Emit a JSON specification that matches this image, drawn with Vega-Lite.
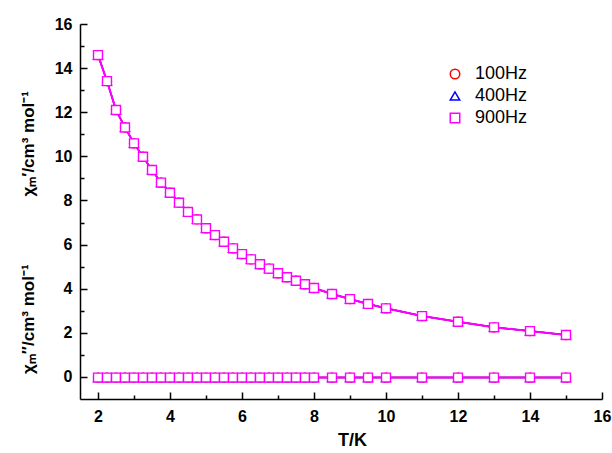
{
  "$schema": "https://vega.github.io/schema/vega-lite/v6.json",
  "width": 522,
  "height": 375,
  "autosize": {"type": "none"},
  "padding": {"left": 80, "top": 24, "right": 10, "bottom": 54},
  "background": "white",
  "config": {
    "view": {"stroke": null},
    "font": "Liberation Sans"
  },
  "data": {
    "values": [
      {"T": 2, "f": "100Hz", "c1": 14.59, "c2": -0.03},
      {"T": 2.25, "f": "100Hz", "c1": 13.41, "c2": -0.03},
      {"T": 2.5, "f": "100Hz", "c1": 12.10, "c2": -0.03},
      {"T": 2.75, "f": "100Hz", "c1": 11.31, "c2": -0.03},
      {"T": 3, "f": "100Hz", "c1": 10.59, "c2": -0.03},
      {"T": 3.25, "f": "100Hz", "c1": 9.98, "c2": -0.03},
      {"T": 3.5, "f": "100Hz", "c1": 9.38, "c2": -0.03},
      {"T": 3.75, "f": "100Hz", "c1": 8.81, "c2": -0.03},
      {"T": 4, "f": "100Hz", "c1": 8.35, "c2": -0.03},
      {"T": 4.25, "f": "100Hz", "c1": 7.90, "c2": -0.03},
      {"T": 4.5, "f": "100Hz", "c1": 7.48, "c2": -0.03},
      {"T": 4.75, "f": "100Hz", "c1": 7.14, "c2": -0.03},
      {"T": 5, "f": "100Hz", "c1": 6.74, "c2": -0.03},
      {"T": 5.25, "f": "100Hz", "c1": 6.43, "c2": -0.03},
      {"T": 5.5, "f": "100Hz", "c1": 6.13, "c2": -0.03},
      {"T": 5.75, "f": "100Hz", "c1": 5.83, "c2": -0.03},
      {"T": 6, "f": "100Hz", "c1": 5.57, "c2": -0.03},
      {"T": 6.25, "f": "100Hz", "c1": 5.33, "c2": -0.03},
      {"T": 6.5, "f": "100Hz", "c1": 5.11, "c2": -0.03},
      {"T": 6.75, "f": "100Hz", "c1": 4.91, "c2": -0.03},
      {"T": 7, "f": "100Hz", "c1": 4.70, "c2": -0.03},
      {"T": 7.25, "f": "100Hz", "c1": 4.52, "c2": -0.03},
      {"T": 7.5, "f": "100Hz", "c1": 4.36, "c2": -0.03},
      {"T": 7.75, "f": "100Hz", "c1": 4.20, "c2": -0.03},
      {"T": 8, "f": "100Hz", "c1": 4.03, "c2": -0.03},
      {"T": 8.5, "f": "100Hz", "c1": 3.76, "c2": -0.03},
      {"T": 9, "f": "100Hz", "c1": 3.53, "c2": -0.03},
      {"T": 9.5, "f": "100Hz", "c1": 3.31, "c2": -0.03},
      {"T": 10, "f": "100Hz", "c1": 3.11, "c2": -0.03},
      {"T": 11, "f": "100Hz", "c1": 2.76, "c2": -0.03},
      {"T": 12, "f": "100Hz", "c1": 2.50, "c2": -0.03},
      {"T": 13, "f": "100Hz", "c1": 2.25, "c2": -0.03},
      {"T": 14, "f": "100Hz", "c1": 2.08, "c2": -0.03},
      {"T": 15, "f": "100Hz", "c1": 1.90, "c2": -0.03},
      {"T": 2, "f": "400Hz", "c1": 14.59, "c2": -0.03},
      {"T": 2.25, "f": "400Hz", "c1": 13.41, "c2": -0.03},
      {"T": 2.5, "f": "400Hz", "c1": 12.10, "c2": -0.03},
      {"T": 2.75, "f": "400Hz", "c1": 11.31, "c2": -0.03},
      {"T": 3, "f": "400Hz", "c1": 10.59, "c2": -0.03},
      {"T": 3.25, "f": "400Hz", "c1": 9.98, "c2": -0.03},
      {"T": 3.5, "f": "400Hz", "c1": 9.38, "c2": -0.03},
      {"T": 3.75, "f": "400Hz", "c1": 8.81, "c2": -0.03},
      {"T": 4, "f": "400Hz", "c1": 8.35, "c2": -0.03},
      {"T": 4.25, "f": "400Hz", "c1": 7.90, "c2": -0.03},
      {"T": 4.5, "f": "400Hz", "c1": 7.48, "c2": -0.03},
      {"T": 4.75, "f": "400Hz", "c1": 7.14, "c2": -0.03},
      {"T": 5, "f": "400Hz", "c1": 6.74, "c2": -0.03},
      {"T": 5.25, "f": "400Hz", "c1": 6.43, "c2": -0.03},
      {"T": 5.5, "f": "400Hz", "c1": 6.13, "c2": -0.03},
      {"T": 5.75, "f": "400Hz", "c1": 5.83, "c2": -0.03},
      {"T": 6, "f": "400Hz", "c1": 5.57, "c2": -0.03},
      {"T": 6.25, "f": "400Hz", "c1": 5.33, "c2": -0.03},
      {"T": 6.5, "f": "400Hz", "c1": 5.11, "c2": -0.03},
      {"T": 6.75, "f": "400Hz", "c1": 4.91, "c2": -0.03},
      {"T": 7, "f": "400Hz", "c1": 4.70, "c2": -0.03},
      {"T": 7.25, "f": "400Hz", "c1": 4.52, "c2": -0.03},
      {"T": 7.5, "f": "400Hz", "c1": 4.36, "c2": -0.03},
      {"T": 7.75, "f": "400Hz", "c1": 4.20, "c2": -0.03},
      {"T": 8, "f": "400Hz", "c1": 4.03, "c2": -0.03},
      {"T": 8.5, "f": "400Hz", "c1": 3.76, "c2": -0.03},
      {"T": 9, "f": "400Hz", "c1": 3.53, "c2": -0.03},
      {"T": 9.5, "f": "400Hz", "c1": 3.31, "c2": -0.03},
      {"T": 10, "f": "400Hz", "c1": 3.11, "c2": -0.03},
      {"T": 11, "f": "400Hz", "c1": 2.76, "c2": -0.03},
      {"T": 12, "f": "400Hz", "c1": 2.50, "c2": -0.03},
      {"T": 13, "f": "400Hz", "c1": 2.25, "c2": -0.03},
      {"T": 14, "f": "400Hz", "c1": 2.08, "c2": -0.03},
      {"T": 15, "f": "400Hz", "c1": 1.90, "c2": -0.03},
      {"T": 2, "f": "900Hz", "c1": 14.59, "c2": -0.03},
      {"T": 2.25, "f": "900Hz", "c1": 13.41, "c2": -0.03},
      {"T": 2.5, "f": "900Hz", "c1": 12.10, "c2": -0.03},
      {"T": 2.75, "f": "900Hz", "c1": 11.31, "c2": -0.03},
      {"T": 3, "f": "900Hz", "c1": 10.59, "c2": -0.03},
      {"T": 3.25, "f": "900Hz", "c1": 9.98, "c2": -0.03},
      {"T": 3.5, "f": "900Hz", "c1": 9.38, "c2": -0.03},
      {"T": 3.75, "f": "900Hz", "c1": 8.81, "c2": -0.03},
      {"T": 4, "f": "900Hz", "c1": 8.35, "c2": -0.03},
      {"T": 4.25, "f": "900Hz", "c1": 7.90, "c2": -0.03},
      {"T": 4.5, "f": "900Hz", "c1": 7.48, "c2": -0.03},
      {"T": 4.75, "f": "900Hz", "c1": 7.14, "c2": -0.03},
      {"T": 5, "f": "900Hz", "c1": 6.74, "c2": -0.03},
      {"T": 5.25, "f": "900Hz", "c1": 6.43, "c2": -0.03},
      {"T": 5.5, "f": "900Hz", "c1": 6.13, "c2": -0.03},
      {"T": 5.75, "f": "900Hz", "c1": 5.83, "c2": -0.03},
      {"T": 6, "f": "900Hz", "c1": 5.57, "c2": -0.03},
      {"T": 6.25, "f": "900Hz", "c1": 5.33, "c2": -0.03},
      {"T": 6.5, "f": "900Hz", "c1": 5.11, "c2": -0.03},
      {"T": 6.75, "f": "900Hz", "c1": 4.91, "c2": -0.03},
      {"T": 7, "f": "900Hz", "c1": 4.70, "c2": -0.03},
      {"T": 7.25, "f": "900Hz", "c1": 4.52, "c2": -0.03},
      {"T": 7.5, "f": "900Hz", "c1": 4.36, "c2": -0.03},
      {"T": 7.75, "f": "900Hz", "c1": 4.20, "c2": -0.03},
      {"T": 8, "f": "900Hz", "c1": 4.03, "c2": -0.03},
      {"T": 8.5, "f": "900Hz", "c1": 3.76, "c2": -0.03},
      {"T": 9, "f": "900Hz", "c1": 3.53, "c2": -0.03},
      {"T": 9.5, "f": "900Hz", "c1": 3.31, "c2": -0.03},
      {"T": 10, "f": "900Hz", "c1": 3.11, "c2": -0.03},
      {"T": 11, "f": "900Hz", "c1": 2.76, "c2": -0.03},
      {"T": 12, "f": "900Hz", "c1": 2.50, "c2": -0.03},
      {"T": 13, "f": "900Hz", "c1": 2.25, "c2": -0.03},
      {"T": 14, "f": "900Hz", "c1": 2.08, "c2": -0.03},
      {"T": 15, "f": "900Hz", "c1": 1.90, "c2": -0.03}
    ]
  },
  "transform": [{"fold": ["c1", "c2"], "as": ["kind", "chi"]}],
  "encoding": {
    "x": {
      "field": "T",
      "type": "quantitative",
      "scale": {"domain": [1.5, 16], "nice": false, "zero": false},
      "axis": {
        "values": [2, 3, 4, 5, 6, 7, 8, 9, 10, 11, 12, 13, 14, 15, 16],
        "labelExpr": "datum.value % 2 === 0 ? datum.label : ''",
        "tickSize": {"condition": {"test": "datum.value % 2 === 0", "value": -7}, "value": -4},
        "grid": false,
        "domainColor": "black",
        "domainWidth": 1.5,
        "tickColor": "black",
        "tickWidth": 1.5,
        "labelFont": "Liberation Sans",
        "labelFontSize": 16,
        "labelFontWeight": "bold",
        "labelColor": "black",
        "labelPadding": 16,
        "labelFlush": false,
        "labelOverlap": false,
        "title": "T/K",
        "titleFont": "Liberation Sans",
        "titleFontSize": 18,
        "titleFontWeight": "bold",
        "titleColor": "black",
        "titleX": 272,
        "titleY": 46,
        "titleBaseline": "alphabetic"
      }
    },
    "y": {
      "field": "chi",
      "type": "quantitative",
      "scale": {"domain": [-1, 16], "nice": false, "zero": false},
      "axis": {
        "values": [0, 1, 2, 3, 4, 5, 6, 7, 8, 9, 10, 11, 12, 13, 14, 15, 16],
        "labelExpr": "datum.value % 2 === 0 ? datum.label : ''",
        "tickSize": {"condition": {"test": "datum.value % 2 === 0", "value": -7}, "value": -4},
        "grid": false,
        "domainColor": "black",
        "domainWidth": 1.5,
        "tickColor": "black",
        "tickWidth": 1.5,
        "labelFont": "Liberation Sans",
        "labelFontSize": 16,
        "labelFontWeight": "bold",
        "labelColor": "black",
        "labelPadding": 15,
        "labelFlush": false,
        "labelOverlap": false,
        "title": "χₘ″/cm³ mol⁻¹\u2003\u2003\u2003\u2003χₘ′/cm³ mol⁻¹",
        "titleFont": "Liberation Sans",
        "titleFontSize": 17,
        "titleFontWeight": "bold",
        "titleColor": "black",
        "titleAngle": -90,
        "titleX": -52,
        "titleY": 208,
        "titleBaseline": "middle",
        "titleAlign": "center"
      }
    }
  },
  "layer": [
    {
      "transform": [{"filter": "datum.f === '100Hz'"}],
      "mark": {"type": "line", "strokeWidth": 1.5, "color": "#FF0000"},
      "encoding": {"detail": {"field": "kind", "type": "nominal"}}
    },
    {
      "transform": [{"filter": "datum.f === '400Hz'"}],
      "mark": {"type": "line", "strokeWidth": 1.5, "color": "#0000FF"},
      "encoding": {"detail": {"field": "kind", "type": "nominal"}}
    },
    {
      "transform": [{"filter": "datum.f === '900Hz'"}],
      "mark": {"type": "line", "strokeWidth": 2, "color": "#FF00FF"},
      "encoding": {"detail": {"field": "kind", "type": "nominal"}}
    },
    {
      "mark": {"type": "point", "filled": false, "fill": "white", "fillOpacity": 1, "opacity": 1, "strokeWidth": 1.4, "size": 80},
      "encoding": {
        "stroke": {
          "field": "f",
          "type": "nominal",
          "scale": {"domain": ["100Hz", "400Hz", "900Hz"], "range": ["#FF0000", "#0000FF", "#FF00FF"]},
          "legend": {
            "title": null,
            "orient": "none",
            "legendX": 366,
            "legendY": 41,
            "padding": 0,
            "labelFont": "Liberation Sans",
            "labelFontSize": 18,
            "labelColor": "black",
            "symbolSize": 90,
            "symbolStrokeWidth": 1.5,
            "symbolFillColor": "white",
            "labelOffset": 11,
            "rowPadding": 4,
            "encode": {
              "symbols": {
                "shape": {"value": {"expr": "datum.value === '100Hz' ? 'M-4.6,0H-1M1,0H4.6M-1,0A1,1,0,1,0,1,0A1,1,0,1,0,-1,0Z' : datum.value === '400Hz' ? 'M-4.6,0H-0.56M0.56,0H4.6M0,-1L1,0.8L-1,0.8Z' : 'M-4.6,0H-0.85M0.85,0H4.6M-0.85,-0.85H0.85V0.85H-0.85Z'"}}
              }
            }
          }
        },
        "shape": {
          "field": "f",
          "type": "nominal",
          "scale": {"domain": ["100Hz", "400Hz", "900Hz"], "range": ["circle", "triangle-up", "square"]},
          "legend": {
            "title": null,
            "orient": "none",
            "legendX": 366,
            "legendY": 41,
            "padding": 0,
            "labelFont": "Liberation Sans",
            "labelFontSize": 18,
            "labelColor": "black",
            "symbolSize": 90,
            "symbolStrokeWidth": 1.5,
            "symbolFillColor": "white",
            "labelOffset": 11,
            "rowPadding": 4,
            "encode": {
              "symbols": {
                "shape": {"value": {"expr": "datum.value === '100Hz' ? 'M-4.6,0H-1M1,0H4.6M-1,0A1,1,0,1,0,1,0A1,1,0,1,0,-1,0Z' : datum.value === '400Hz' ? 'M-4.6,0H-0.56M0.56,0H4.6M0,-1L1,0.8L-1,0.8Z' : 'M-4.6,0H-0.85M0.85,0H4.6M-0.85,-0.85H0.85V0.85H-0.85Z'"}}
              }
            }
          }
        }
      }
    }
  ]
}
